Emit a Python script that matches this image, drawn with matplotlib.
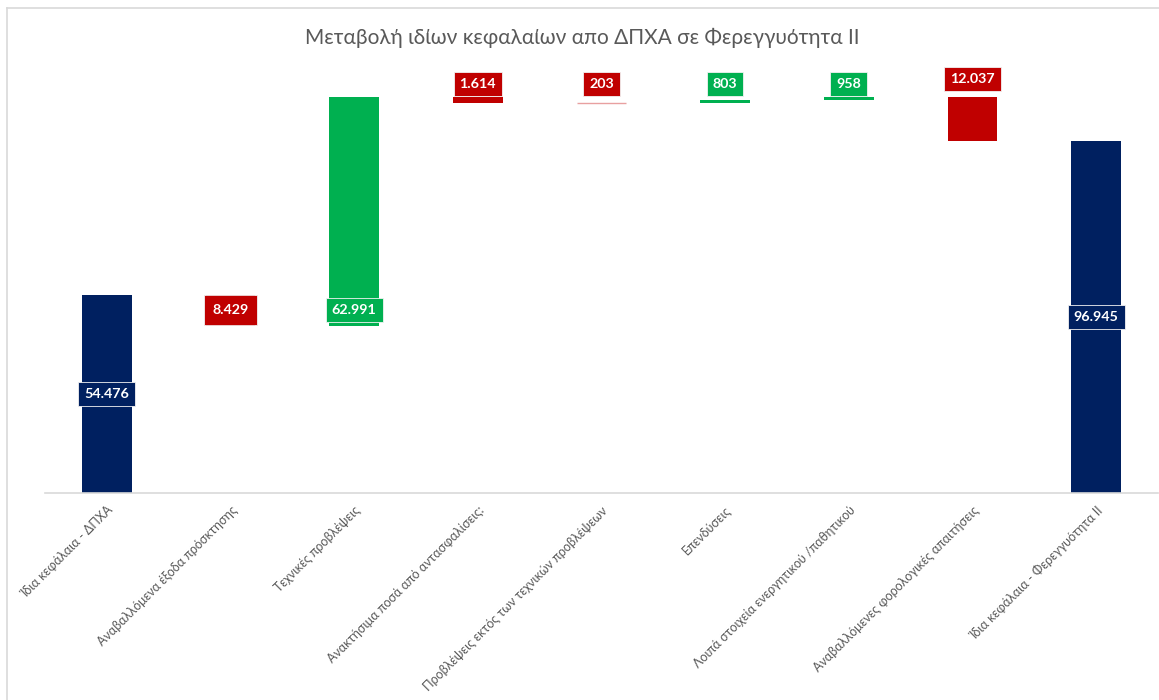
import matplotlib
matplotlib.use("Agg")
import matplotlib.pyplot as plt
from matplotlib.lines import Line2D
import numpy as np

plt.rcParams['font.family'] = ['Lato', 'DejaVu Sans']

categories = [
    "Ίδια κεφάλαια - ΔΠΧΑ",
    "Αναβαλλόμενα έξοδα πρόσκτησης",
    "Τεχνικές προβλέψεις",
    "Ανακτήσιμα ποσά από αντασφαλίσεις:",
    "Προβλέψεις εκτός των τεχνικών προβλέψεων",
    "Επενδύσεις",
    "Λοιπά στοιχεία ενεργητικού /παθητικού",
    "Αναβαλλόμενες φορολογικές απαιτήσεις",
    "Ίδια κεφάλαια - Φερεγγυότητα II",
]
# signed changes; first and last are totals
values = [54476, -8429, 62991, -1614, -203, 803, 958, -12037, 96945]
kinds = ["total", "delta", "delta", "delta", "delta", "delta", "delta", "delta", "total"]
labels = ["54.476", "8.429", "62.991", "1.614", "203", "803", "958", "12.037", "96.945"]

NAVY = "#002060"
RED = "#C00000"
GREEN = "#00B050"

W, H = 1159, 700
fig = plt.figure(figsize=(W / 100, H / 100), dpi=100)
ax_left = 45 / W
ax_right = 1158 / W
ax_bottom = (H - 493) / H
ymax = 119.0
ax_top_px = 493 - ymax * 3.635
ax = fig.add_axes([ax_left, ax_bottom, ax_right - ax_left, (493 - ax_top_px) / H])

x = np.arange(len(categories))
bottoms, heights, colors = [], [], []
running = 0.0
for v, k in zip(values, kinds):
    v = v / 1000.0
    if k == "total":
        bottoms.append(0.0)
        heights.append(v)
        colors.append(NAVY)
        running = v
    else:
        if v >= 0:
            bottoms.append(running)
            heights.append(v)
            colors.append(GREEN)
        else:
            bottoms.append(running + v)
            heights.append(-v)
            colors.append(RED)
        running += v

edge_colors = ["#e8a0a0" if h < 0.5 else "none" for h in heights]
ax.bar(x, heights, bottom=bottoms, width=0.4, color=colors,
       edgecolor=edge_colors, linewidth=1.0, zorder=2)

# label positions (text anchor heights in data units)
label_y = []
for i, (b, h) in enumerate(zip(bottoms, heights)):
    if kinds[i] == "total":
        label_y.append(b + h / 2)
    elif h > 20:
        label_y.append(b + 4.2)
    elif h > 5 and b < 80:
        label_y.append(b + h / 2)
    elif h > 5:
        label_y.append(b + h + 4.8)
    else:
        label_y.append(112.5)

for xi, yi, lab, c, h in zip(x, label_y, labels, colors, heights):
    pad = 0.42
    if 5 < h < 10:
        pad = 0.62
    ax.text(xi, yi, lab, ha="center", va="center", color="white",
            fontsize=10.3, fontweight="bold", zorder=4,
            bbox=dict(boxstyle=f"square,pad={pad}", facecolor=c,
                      edgecolor="#f2f2f2", linewidth=0.6))

ax.set_xlim(-0.5, len(categories) - 0.5)
ax.set_ylim(0, ymax)
ax.set_yticks([])
ax.set_xticks(x)
ax.set_xticklabels(categories, rotation=45, ha="right", va="top",
                   rotation_mode="anchor", fontsize=9, color="#595959")
ax.tick_params(axis="x", length=0, pad=8)
for s in ["top", "right", "left"]:
    ax.spines[s].set_visible(False)
ax.spines["bottom"].set_color("#d9d9d9")
ax.spines["bottom"].set_linewidth(1.2)

fig.text(0.5 + 3 / W, 1 - 38 / H, "Μεταβολή ιδίων κεφαλαίων απο ΔΠΧΑ σε Φερεγγυότητα ΙΙ",
         ha="center", va="center", fontsize=15, color="#595959")

# chart border (left and top visible)
fig.add_artist(Line2D([6.5 / W, 6.5 / W], [0, 1 - 7.5 / H], color="#d9d9d9", linewidth=1.2))
fig.add_artist(Line2D([6.5 / W, 1.0], [1 - 7.5 / H, 1 - 7.5 / H], color="#d9d9d9", linewidth=1.2))

fig.savefig("out.png", dpi=100, facecolor="white")
